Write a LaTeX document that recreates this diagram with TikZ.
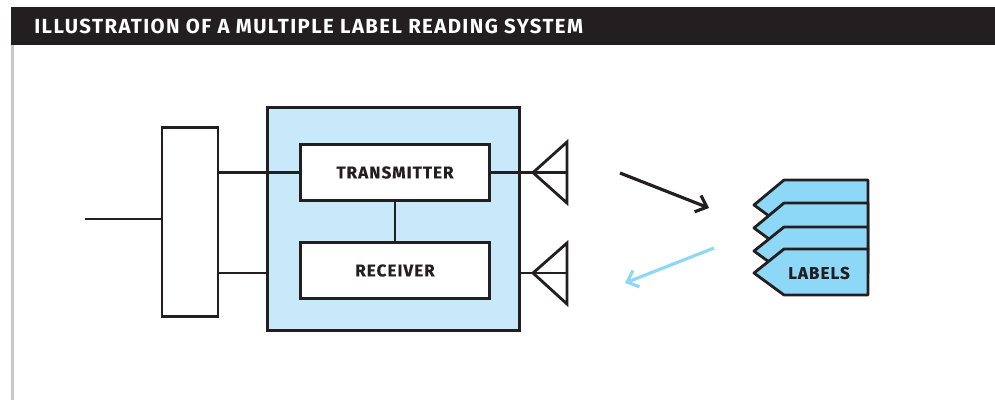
\documentclass[tikz,border=0pt]{standalone}
\usepackage{fontspec}
\setmainfont{Fira Sans}
\usetikzlibrary{arrows.meta}
\definecolor{inkblack}{HTML}{231F20}
\definecolor{paleblue}{HTML}{C7E9FA}
\definecolor{tagblue}{HTML}{8DD7F7}
\definecolor{railgrey}{HTML}{C8C8C8}
\tikzset{
  block/.style={draw=inkblack,line width=1.6pt,fill=white,inner sep=0pt,font=\bfseries\fontsize{9.7}{11}\selectfont,text=inkblack},
  wire/.style={draw=inkblack,line width=1.6pt},
  tag/.style={draw=inkblack,line width=1.6pt,fill=tagblue,line join=round},
  barb/.style={-{Straight Barb[length=5.5pt,width=10pt,line width=1.8pt]},line width=1.8pt}
}
\begin{document}
\begin{tikzpicture}[x=0.02cm,y=-0.02cm]
	\useasboundingbox (0,0) rectangle (995,400);
	\draw[railgrey,line width=1.7pt] (12.5,45) -- (12.5,400);
	\node[fill=inkblack,minimum width=19.68cm,minimum height=0.76cm,inner sep=0pt,anchor=north west] (titlebar) at (11,7) {};
	\node[anchor=west,inner sep=0pt,text=white,font=\bfseries\fontsize{11.6}{13}\selectfont] (title) at (34,26.5) {\addfontfeature{LetterSpace=6.9}ILLUSTRATION OF A MULTIPLE LABEL READING SYSTEM};

	\node[block,fill=paleblue,minimum width=5.04cm,minimum height=4.46cm] (reader) at (393.5,219) {};
	\node[block,minimum width=1.12cm,minimum height=3.78cm] (hub) at (190,222) {};
	\node[block,minimum width=3.78cm,minimum height=1.12cm] (transmitter) at (395,172.5) {\addfontfeature{LetterSpace=6,FakeBold=0.2}\raisebox{-0.5pt}{TRANSMITTER}};
	\node[block,minimum width=3.78cm,minimum height=1.12cm] (receiver) at (395,270.5) {\addfontfeature{LetterSpace=6,FakeBold=0.2}RECEIVER};

	\coordinate (feed) at (85,219);
	\coordinate (hubtop) at (218,172.6);
	\coordinate (hubbottom) at (218,273);
	\coordinate (readerright) at (518,273);
	\coordinate (txtip) at (533,172.6);
	\coordinate (rxtip) at (533,273);

	\draw[wire] (feed) -- (feed-|hub.west);
	\draw[wire] (hubtop) -- (hubtop-|transmitter.west);
	\draw[wire] (hubbottom) -- (hubbottom-|reader.west);
	\draw[wire] (transmitter) -- (receiver);
	\draw[wire] (txtip-|transmitter.east) -- (txtip);
	\draw[wire] (readerright) -- (rxtip);

	\draw[wire,line join=miter] (567,142) -- (txtip) -- (567,203) -- cycle;
	\draw[wire] (txtip) -- (567,172.6);
	\draw[wire,line join=miter] (567,243) -- (rxtip) -- (567,304) -- cycle;
	\draw[wire] (rxtip) -- (567,273);

	\draw[barb,inkblack] (620,173) -- (709,208);
	\draw[barb,tagblue] (714,248) -- (625,283);

	\draw[tag] (784,180) -- (868,180) -- (868,227) -- (784,227) -- (754,205) -- cycle;
	\draw[tag] (784,203) -- (868,203) -- (868,250) -- (784,250) -- (754,228) -- cycle;
	\draw[tag] (784,227) -- (868,227) -- (868,273) -- (784,273) -- (754,251) -- cycle;
	\draw[tag] (784,249) -- (868,249) -- (868,295) -- (784,295) -- (754,273) -- cycle;
	\node[inner sep=0pt,text=inkblack,font=\bfseries\fontsize{9.7}{11}\selectfont] (labels) at (819,273) {\addfontfeature{LetterSpace=6,FakeBold=0.2}LABELS};
\end{tikzpicture}
\end{document}
